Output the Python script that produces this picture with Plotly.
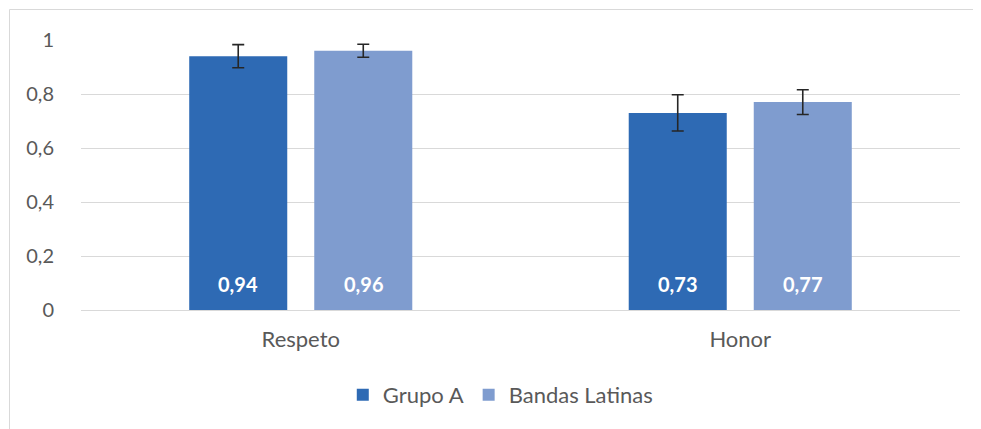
import plotly.graph_objects as go

categories = ["Respeto", "Honor"]
grupo_a = [0.94, 0.73]
grupo_a_err = [0.043, 0.067]
bandas = [0.96, 0.77]
bandas_err = [0.024, 0.046]
series_names = ["Grupo A", "Bandas Latinas"]
y_ticks = [0, 0.2, 0.4, 0.6, 0.8, 1]
y_tick_labels = ["0", "0,2", "0,4", "0,6", "0,8", "1"]

# page has an 8px body margin, so the figure is drawn 8px in from the window edge
OFF = 8
W, H = 981 - OFF, 429 - OFF
L, R, T, B = 81 - OFF, 21, 40 - OFF, 119
pw, ph = W - L - R, H - T - B

font_fam = "Lato, 'Open Sans', sans-serif"
grey = "#595959"
colors = ["#2E6AB4", "#7F9CCF"]

fig = go.Figure()
for name, vals, errs, col in [(series_names[0], grupo_a, grupo_a_err, colors[0]),
                              (series_names[1], bandas, bandas_err, colors[1])]:
    fig.add_trace(go.Bar(
        x=categories, y=vals, name=name,
        marker=dict(color=col, line=dict(width=0)),
        error_y=dict(type="data", array=errs, visible=True, color="#262626", thickness=1.6, width=6),
        hoverinfo="x+y",
    ))

# value labels near the base of each bar
annotations = []
slot = pw / len(categories) * (1 - 0.431) / 2
for j, vals in enumerate([grupo_a, bandas]):
    for i, cat in enumerate(categories):
        annotations.append(dict(
            x=cat, y=0, xref="x", yref="y", showarrow=False,
            text=f"{vals[i]:.2f}".replace(".", ","),
            xshift=(j - 0.5) * slot, yshift=26, yanchor="middle",
            font=dict(color="white", size=20, family=font_fam, weight="bold"),
        ))


def px_x(x):
    return (x - L) / pw


def px_y(y):
    return (H - B - y) / ph


fig.update_layout(
    width=W, height=H,
    margin=dict(l=L, r=R, t=T, b=B),
    paper_bgcolor="white", plot_bgcolor="white",
    separators=",.",
    barmode="group", bargap=0.431, bargroupgap=0.216,
    font=dict(family=font_fam, color=grey, size=20),
    showlegend=True,
    legend=dict(orientation="h", x=0.477, xanchor="center", y=px_y(395 - OFF), yanchor="middle",
                font=dict(size=22, color=grey), itemwidth=30, traceorder="normal"),
    xaxis=dict(showgrid=False, showline=False, zeroline=False, ticks="outside", ticklen=10,
               tickcolor="rgba(0,0,0,0)", tickfont=dict(size=22, color=grey)),
    yaxis=dict(range=[0, 1], tickvals=y_ticks, ticktext=y_tick_labels,
               showgrid=True, gridcolor="#D9D9D9", gridwidth=1, zeroline=True, zerolinecolor="#D9D9D9",
               zerolinewidth=1, showline=False, ticks="outside", ticklen=22, tickcolor="rgba(0,0,0,0)",
               tickfont=dict(size=20, color=grey)),
    annotations=annotations,
    shapes=[
        dict(type="line", xref="paper", yref="paper", x0=px_x(1.5), x1=px_x(990), y0=px_y(1.5), y1=px_y(1.5),
             line=dict(color="#D9D9D9", width=1)),
        dict(type="line", xref="paper", yref="paper", x0=px_x(1.5), x1=px_x(1.5), y0=px_y(1.5), y1=px_y(440),
             line=dict(color="#D9D9D9", width=1)),
    ],
)

fig.write_html("out.html")
